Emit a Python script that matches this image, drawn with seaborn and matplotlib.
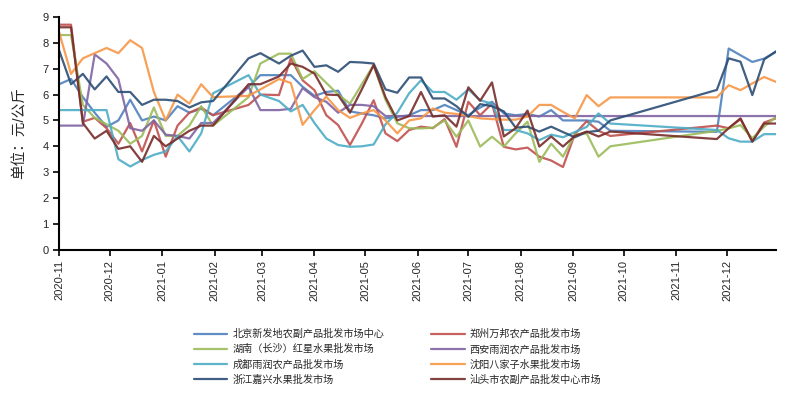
import numpy as np
import pandas as pd
import matplotlib
matplotlib.use("Agg")
import matplotlib.pyplot as plt
import matplotlib.dates as mdates
import seaborn as sns

nan = np.nan

# -----------------------------
# DATA (weekly prices, yuan / kg)
# -----------------------------
# weekly dates: Sundays until end of Feb, then Thursdays from 2021-03-11
dates = list(pd.date_range("2020-11-01", periods=18, freq="7D")) + \
        list(pd.date_range("2021-03-11", periods=43, freq="7D"))

markets = ["北京新发地农副产品批发市场中心", "郑州万邦农产品批发市场",
           "湖南（长沙）红星水果批发市场", "西安雨润农产品批发市场",
           "成都雨润农产品批发市场", "沈阳八家子水果批发市场",
           "浙江嘉兴水果批发市场", "汕头市农副产品批发中心市场"]

beijing = [6.4, 6.6, 5.9, 5.3, 4.75, 5.0, 5.8, 5.0, 5.15, 5.0, 5.55, 5.3, 5.45, 5.2, nan, nan, 6.3, 6.75,
           6.75, 6.75, 6.3, 5.95, 6.1, 6.15, 5.35, 5.27, 5.2, 5.08, 5.14, 5.2, 5.4, 5.4, 5.6, 5.4, 5.2, 5.5,
           5.72, 5.27, 5.2, 5.25, 5.15, 5.4, 5.0, 5.0, 5.0, 4.95, 4.6,
           nan, nan, nan, nan, nan, nan, nan, nan,
           4.56, 7.78, 7.52, 7.26, 7.39, 7.65]
zhengzhou = [8.7, 8.7, 4.95, 5.1, 4.7, 4.1, 4.9, 3.8, 5.0, 3.6, 4.8, 5.3, 5.5, 5.2, nan, nan, 5.6, 6.0,
             5.98, 7.4, 6.55, 6.17, 5.2, 4.82, 4.05, 4.88, 5.78, 4.5, 4.2, 4.63, 4.76, 4.7, 5.05, 3.98, 5.72, 5.2,
             5.65, 3.98, 3.88, 3.95, 3.6, 3.45, 3.2, 4.47, 4.97, 4.6, 4.4,
             nan, nan, nan, nan, nan, nan, nan, nan,
             4.8, 4.7, 5.05, 4.2, 4.92, 5.08]
hunan = [8.3, 8.3, 5.6, 5.1, 4.85, 4.6, 4.1, 4.4, 5.5, 4.4, 4.4, 4.8, 5.55, 4.8, nan, nan, 5.9, 7.2,
         7.58, 7.58, 6.6, 6.9, 6.45, 6.0, 5.65, 6.4, 7.14, 5.8, 4.89, 4.7, 4.69, 4.72, 5.0, 4.37, 5.0, 3.99,
         4.37, 3.99, 4.5, 4.95, 3.4, 4.1, 3.6, 4.45, 4.5, 3.6, 4.0,
         nan, nan, nan, nan, nan, nan, nan, nan,
         4.6, 4.69, 4.82, 4.31, 4.76, 5.14]
xian = [4.8, 4.8, 4.8, 7.55, 7.2, 6.6, 4.7, 4.6, 5.0, 4.45, 4.4, 4.3, 4.9, 4.9, nan, nan, 6.3, 5.4,
        5.4, 5.45, 6.25, 5.9, 5.72, 5.3, 5.6, 5.6, 5.55, 5.17, 5.17, 5.17, 5.17, 5.17, 5.17, 5.17, 5.17, 5.17,
        5.17, 5.17, 5.17, 5.17, 5.17, 5.17, 5.17, 5.17, 5.17, 5.17, 5.17,
        nan, nan, nan, nan, nan, nan, nan, nan,
        5.17, 5.17, 5.17, 5.17, 5.17, 5.17]
chengdu = [5.4, 5.4, 5.4, 5.4, 5.4, 3.5, 3.22, 3.47, 3.67, 3.8, 4.4, 3.8, 4.5, 6.05, nan, nan, 6.75, 6.0,
           5.75, 5.35, 5.6, 4.9, 4.3, 4.05, 3.98, 4.0, 4.07, 4.85, 5.3, 6.05, 6.55, 6.1, 6.1, 5.8, 6.2, 5.78,
           5.65, 4.63, 4.63, 4.5, 4.24, 4.45, 4.35, 4.55, 4.75, 5.27, 4.88,
           nan, nan, nan, nan, nan, nan, nan, nan,
           4.63, 4.31, 4.18, 4.18, 4.47, 4.47]
shenyang = [8.4, 6.8, 7.4, 7.6, 7.8, 7.6, 8.1, 7.8, 6.1, 5.0, 6.0, 5.65, 6.4, 5.9, nan, nan, 5.95, 6.2,
            6.6, 6.45, 4.83, 5.4, 5.92, 5.4, 5.1, 5.27, 5.4, 5.0, 4.5, 5.0, 5.08, 5.46, 5.3, 5.25, 5.17, 5.08,
            5.05, 5.03, 5.03, 5.15, 5.6, 5.6, 5.33, 5.08, 5.98, 5.55, 5.89,
            nan, nan, nan, nan, nan, nan, nan, nan,
            5.89, 6.36, 6.17, 6.43, 6.68, 6.49]
zhejiang = [7.7, 6.4, 6.8, 6.2, 6.7, 6.1, 6.1, 5.6, 5.8, 5.8, 5.75, 5.5, 5.7, 5.75, nan, nan, 7.4, 7.6,
            7.2, 7.5, 7.7, 7.07, 7.13, 6.88, 7.26, 7.24, 7.2, 6.2, 6.07, 6.66, 6.66, 5.85, 5.85, 5.55, 5.14, 5.63,
            5.55, 5.35, 4.72, 4.76, 4.57, 4.76, 4.55, 4.35, 4.55, 4.6, 5.0,
            nan, nan, nan, nan, nan, nan, nan, nan,
            6.18, 7.4, 7.27, 5.98, 7.36, 7.67]
shantou = [8.6, 8.6, 4.9, 4.3, 4.6, 3.9, 4.0, 3.4, 4.4, 4.0, 4.3, 4.6, 4.8, 4.8, nan, nan, 6.4, 6.4,
           6.7, 7.2, 7.07, 6.81, 6.0, 5.98, 5.3, 6.2, 7.14, 5.9, 5.0, 5.17, 6.1, 5.15, 5.2, 4.76, 6.28, 5.76,
           6.47, 4.38, 4.7, 5.38, 3.99, 4.38, 3.99, 4.4, 4.57, 4.38, 4.57,
           nan, nan, nan, nan, nan, nan, nan, nan,
           4.28, 4.7, 5.08, 4.18, 4.88, 4.88]

colors = ["#4F81BD", "#C0504D", "#9BBB59", "#8064A2",
          "#4BACC6", "#F79646", "#2C4D75", "#772C2A"]

# -----------------------------
# BUILD LONG TABLE
# -----------------------------
series = [beijing, zhengzhou, hunan, xian, chengdu, shenyang, zhejiang, shantou]
frames = []
for name, values in zip(markets, series):
    frames.append(pd.DataFrame({"date": dates, "price": values, "market": name}))
data = pd.concat(frames).dropna()   # missing weeks -> lines join across the gap

# -----------------------------
# PLOT
# -----------------------------
sns.set_style("ticks")
plt.rcParams["font.family"] = ["Liberation Sans", "Noto Sans CJK SC", "DejaVu Sans"]

fig = plt.figure(figsize=(8, 3.94), dpi=100)
ax = fig.add_axes([0.074, 0.366, 0.896, 0.591])

sns.lineplot(data=data, x="date", y="price", hue="market", hue_order=markets,
             palette=dict(zip(markets, colors)), linewidth=1.6, alpha=0.9,
             estimator=None, sort=True, ax=ax)

# axes
ax.set_xlim(pd.Timestamp("2020-11-01"), pd.Timestamp("2021-12-30"))
ax.set_ylim(0, 9)
ax.set_yticks(range(0, 10))
ax.xaxis.set_major_locator(mdates.MonthLocator())
ax.xaxis.set_major_formatter(mdates.DateFormatter("%Y-%m"))
ax.tick_params(axis="x", labelrotation=90, labelsize=8, length=4, width=1.2, color="black")
ax.tick_params(axis="y", labelsize=8, length=4, width=1.2, color="black")
ax.set_xlabel("")
ax.set_ylabel("单位：元/公斤", fontsize=10.5, labelpad=11)
sns.despine(ax=ax)
for side in ["left", "bottom"]:
    ax.spines[side].set_color("black")
    ax.spines[side].set_linewidth(1.5)

# legend below the chart, two columns
handles, labels = ax.get_legend_handles_labels()
ax.get_legend().remove()
order = [0, 2, 4, 6, 1, 3, 5, 7]
fig.legend([handles[i] for i in order], [labels[i] for i in order],
           loc="center", bbox_to_anchor=(0.497, 0.094), ncol=2, frameon=False,
           fontsize=7.3, handlelength=3.3, handletextpad=0.5,
           columnspacing=4.6, labelspacing=0.5)

plt.savefig("out.png", dpi=100)
